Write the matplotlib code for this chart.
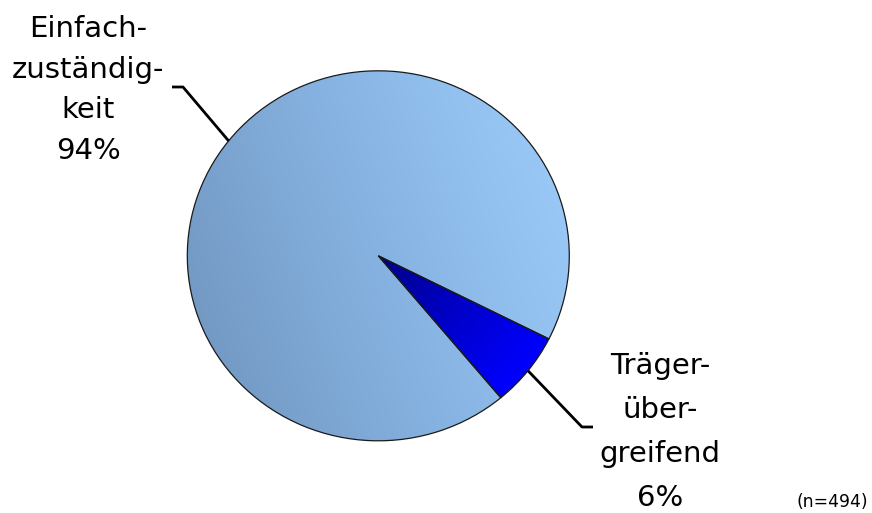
import numpy as np
import matplotlib
matplotlib.use('Agg')
import matplotlib.pyplot as plt
from matplotlib.colors import LinearSegmentedColormap

plt.rcParams['font.family'] = ['DejaVu Sans']

# ----------------------------
# Daten
# ----------------------------
shares = [6.5, 93.5]   # Trägerübergreifend, Einfachzuständigkeit (%)
labels = ['Träger-\nüber-\ngreifend\n6%', 'Einfach-\nzuständig-\nkeit\n94%']
n_total = 494

W, H = 872, 513
fig = plt.figure(figsize=(W / 100, H / 100), dpi=100)

# Pie-Achse (leicht elliptisch wie im Original)
cx, cy, rx, ry = 378.3, 255.8, 191.0, 185.0
ax = fig.add_axes([(cx - rx) / W, (H - cy - ry) / H, 2 * rx / W, 2 * ry / H])
wedges, _ = ax.pie(shares, startangle=-50.1, counterclock=True, radius=1,
                   wedgeprops=dict(facecolor='none', edgecolor='#1a1a1a',
                                   linewidth=0.9, zorder=3))
ax.set_aspect('auto')
ax.set_xlim(-1, 1)
ax.set_ylim(-1, 1)
ax.axis('off')

# Farbverläufe
gx, gy = np.meshgrid(np.linspace(-1, 1, 400), np.linspace(-1, 1, 400))
cm_big = LinearSegmentedColormap.from_list('big', ['#6f94bd', '#86b2e1', '#9dcdfc'])
t_big = np.clip(0.5 + 0.38 * gx + 0.13 * gy, 0, 1)
img = ax.imshow(cm_big(t_big), extent=(-1, 1, -1, 1), origin='lower',
                aspect='auto', zorder=1, interpolation='bilinear')
img.set_clip_path(wedges[1])

cm_small = LinearSegmentedColormap.from_list('small', ['#000088', '#0000c8', '#0000ff'])
t_small = np.clip(np.hypot(gx, gy), 0, 1)
img2 = ax.imshow(cm_small(t_small), extent=(-1, 1, -1, 1), origin='lower',
                 aspect='auto', zorder=2, interpolation='bilinear')
img2.set_clip_path(wedges[0])

# Overlay in Pixelkoordinaten für Beschriftungen
ov = fig.add_axes([0, 0, 1, 1], zorder=5)
ov.set_xlim(0, W)
ov.set_ylim(H, 0)
ov.axis('off')

def edge_point(w):
    mid = np.deg2rad((w.theta1 + w.theta2) / 2)
    px, py = ax.transData.transform((np.cos(mid), np.sin(mid)))
    return px, H - py

# Leader-Linien
ex, ey = edge_point(wedges[1])
ov.plot([ex, 183, 172], [ey, 87, 87], color='black', lw=2.0, solid_capstyle='butt')
ex, ey = edge_point(wedges[0])
ov.plot([ex, 582, 593], [ey, 427, 427], color='black', lw=2.0, solid_capstyle='butt')

ov.text(88, 90, labels[1], fontsize=21, ha='center', va='center',
        linespacing=1.58, color='black')
ov.text(660, 432, labels[0], fontsize=21, ha='center', va='center',
        linespacing=1.72, color='black')
ov.text(832, 502, f'(n={n_total})', fontsize=12.3, ha='center', va='center',
        color='black')

fig.savefig('out.png', dpi=100)
